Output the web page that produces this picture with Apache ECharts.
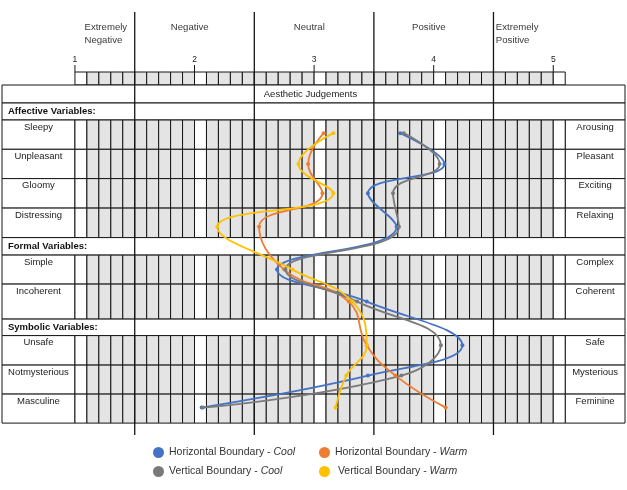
<!DOCTYPE html>
<html>
<head>
<meta charset="utf-8">
<script src="https://cdn.jsdelivr.net/npm/echarts@6/dist/echarts.min.js"></script>
<style>
  html, body { margin: 0; background: #fff; }
  #chart { width: 627px; height: 490px; }
</style>
</head>
<body>
<div id="chart"></div>
<script>
// --- data ---
const scaleTicks = [1, 2, 3, 4, 5];
const scaleBands = ['Extremely\nNegative', 'Negative', 'Neutral', 'Positive', 'Extremely\nPositive'];
const tableTitle = 'Aesthetic Judgements';
const sections = ['Affective Variables:', 'Formal Variables:', 'Symbolic Variables:'];
const leftLabels = ['Sleepy', 'Unpleasant', 'Gloomy', 'Distressing', 'Simple', 'Incoherent', 'Unsafe', 'Notmysterious', 'Masculine'];
const rightLabels = ['Arousing', 'Pleasant', 'Exciting', 'Relaxing', 'Complex', 'Coherent', 'Safe', 'Mysterious', 'Feminine'];

const horizontalCool = [3.72, 4.09, 3.45, 3.69, 2.69, 3.44, 4.24, 3.45, 2.06];
const horizontalWarm = [3.08, 2.95, 3.07, 2.54, 2.75, 3.29, 3.44, 3.68, 4.10];
const verticalCool = [3.75, 4.05, 3.66, 3.71, 2.76, 3.36, 4.06, 3.73, 2.07];
const verticalWarm = [3.16, 2.87, 3.16, 2.19, 2.82, 3.32, 3.44, 3.27, 3.18];

const seriesNames = ['Horizontal Boundary - Cool', 'Horizontal Boundary - Warm', 'Vertical Boundary - Cool', 'Vertical Boundary - Warm'];
const seriesColors = ['#4472c4', '#ed7d31', '#7a7a7a', '#ffc000'];

// --- layout (x in scale units, y in layout units of the y axis) ---
const X_LEFT = 0.39, X_RIGHT = 5.6, CELL_START = 1, CELL_END = 5.1;
const STRIP = [72, 85];
const BAND_LINES = [1.5, 2.5, 3.5, 4.5];
const BAND_LINE_Y = [12, 435];
const bandPos = [[1.08, 'left'], [1.96, 'center'], [2.96, 'center'], [3.96, 'center'], [4.52, 'left']];
const rowPlan = [
  ['title', 18], ['section', 17, 0],
  ['var', 29.3, 0], ['var', 29.3, 1], ['var', 29.5, 2], ['var', 29.5, 3],
  ['section', 17.5, 1], ['var', 29, 4], ['var', 35, 5],
  ['section', 16.5, 2], ['var', 29.5, 6], ['var', 29, 7], ['var', 29, 8]
];
const markShift = [-1.5, 0, 0, 4, 0, 0, -5, -4, -1];
const GREY = '#e4e4e4';
const FONT = 'Liberation Sans, Arial, sans-serif';

const shapes = [];
const markY = [];

function rect(x0, y0, x1, y1, fill) {
  shapes.push({ t: 'rect', x0, y0, x1, y1, fill });
}
function text(x, y, str, opts) {
  shapes.push(Object.assign({ t: 'text', x0: x, y0: y, str }, opts));
}
function cells(y0, y1) {
  for (let k = 0; k < 41; k++) {
    const x0 = CELL_START + k / 10;
    rect(x0, y0, x0 + 0.1, y1, k % 10 === 0 ? '#fff' : GREY);
  }
}

// top strip with scale ticks
cells(STRIP[0], STRIP[1]);
scaleTicks.forEach(v => {
  shapes.push({ t: 'line', x0: v, y0: STRIP[0] - 7, x1: v, y1: STRIP[0], w: 1 });
  text(v, STRIP[0] - 12.5, String(v), { size: 8.5, align: 'center', va: 'middle' });
});
scaleBands.forEach((b, i) => {
  text(bandPos[i][0], 20.5, b, { size: 9.6, align: bandPos[i][1], va: 'top', color: '#3a3a3a' });
});

// table rows
let y = STRIP[1];
rowPlan.forEach(r => {
  const y0 = y, y1 = y + r[1];
  if (r[0] === 'var') {
    const i = r[2];
    rect(X_LEFT, y0, CELL_START, y1, '#fff');
    rect(CELL_END, y0, X_RIGHT, y1, '#fff');
    cells(y0, y1);
    text((X_LEFT + CELL_START) / 2, y0 + 7, leftLabels[i], { size: 9.5, align: 'center', va: 'middle' });
    text((CELL_END + X_RIGHT) / 2, y0 + 7, rightLabels[i], { size: 9.5, align: 'center', va: 'middle' });
    markY[i] = (y0 + y1) / 2 + markShift[i];
  } else {
    rect(X_LEFT, y0, X_RIGHT, y1, '#fff');
    if (r[0] === 'title') {
      text(2.97, (y0 + y1) / 2, tableTitle, { size: 9.5, align: 'center', va: 'middle' });
    } else {
      text(X_LEFT + 0.05, (y0 + y1) / 2, sections[r[2]], { size: 9.5, align: 'left', va: 'middle', bold: true, color: '#111' });
    }
  }
  y = y1;
});

BAND_LINES.forEach(v => {
  shapes.push({ t: 'line', x0: v, y0: BAND_LINE_Y[0], x1: v, y1: BAND_LINE_Y[1], w: 1.3 });
});

function renderShape(params, api) {
  const s = shapes[params.dataIndex];
  const a = api.coord([s.x0, s.y0]);
  if (s.t === 'rect') {
    const b = api.coord([s.x1, s.y1]);
    return {
      type: 'rect',
      shape: { x: a[0], y: a[1], width: b[0] - a[0], height: b[1] - a[1] },
      style: { fill: s.fill, stroke: '#151515', lineWidth: 1 }
    };
  }
  if (s.t === 'line') {
    const b = api.coord([s.x1, s.y1]);
    return {
      type: 'line',
      shape: { x1: a[0], y1: a[1], x2: b[0], y2: b[1] },
      style: { stroke: '#151515', lineWidth: s.w }
    };
  }
  return {
    type: 'text',
    x: a[0],
    y: a[1],
    style: {
      text: s.str,
      fill: s.color || '#222',
      fontSize: s.size,
      fontFamily: FONT,
      fontWeight: s.bold ? 'bold' : 'normal',
      lineHeight: 13,
      align: s.align,
      verticalAlign: s.va
    }
  };
}

const seriesValues = [horizontalCool, horizontalWarm, verticalCool, verticalWarm];

const chart = echarts.init(document.getElementById('chart'));

const legendPos = [[153, 447], [319, 447], [153, 466], [319, 466]];

chart.setOption({
  animation: false,
  grid: { left: 2, right: 2, top: 0, bottom: 0 },
  xAxis: { type: 'value', min: X_LEFT, max: X_RIGHT, show: false },
  yAxis: { type: 'value', min: 0, max: 490, inverse: true, show: false },
  legend: seriesNames.map((name, i) => ({
    data: [name],
    left: legendPos[i][0],
    top: legendPos[i][1],
    padding: 0,
    icon: 'circle',
    itemWidth: 11,
    itemHeight: 11,
    itemGap: 5,
    selectedMode: false,
    formatter: n => {
      const parts = n.split(' - ');
      return (i === 3 ? ' ' : '') + parts[0] + ' - {i|' + parts[1] + '}';
    },
    textStyle: {
      fontSize: 10.5,
      color: '#333',
      fontFamily: FONT,
      rich: { i: { fontStyle: 'italic', fontSize: 10.5, color: '#333', fontFamily: FONT } }
    }
  })),
  series: [
    {
      type: 'custom',
      z: 1,
      silent: true,
      renderItem: renderShape,
      data: shapes.map(s => [s.x0, s.y0])
    }
  ].concat(seriesValues.map((vals, i) => ({
    name: seriesNames[i],
    type: 'line',
    z: 5,
    smooth: 0.45,
    symbol: 'circle',
    symbolSize: 4,
    color: seriesColors[i],
    lineStyle: { width: 1.8, color: seriesColors[i] },
    itemStyle: { color: seriesColors[i] },
    data: vals.map((v, k) => [v, markY[k]])
  })))
});
</script>
</body>
</html>
